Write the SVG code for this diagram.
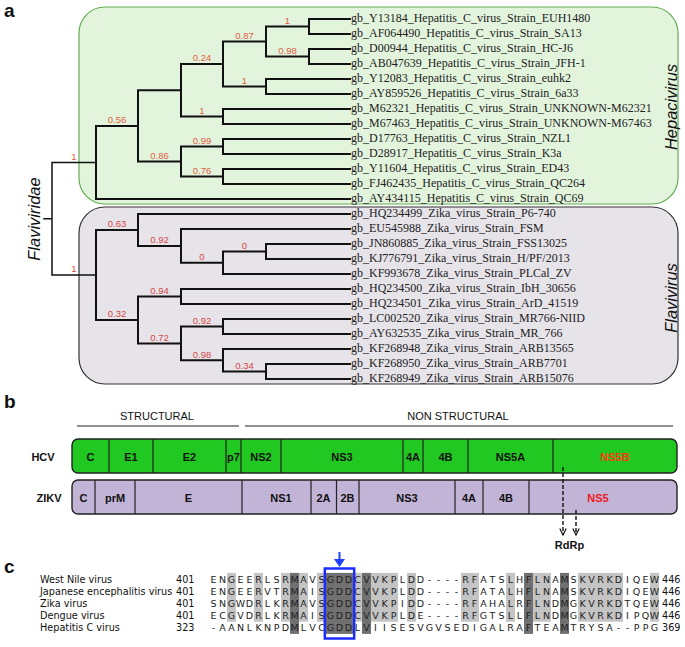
<svg xmlns="http://www.w3.org/2000/svg" width="685" height="647" viewBox="0 0 685 647">
<style>
.panel{font-family:"Liberation Sans",Arial,sans-serif;font-weight:bold;font-size:19px;fill:#111}
.br{fill:none;stroke:#111;stroke-width:2;stroke-linecap:square}
.root{fill:none;stroke:#111;stroke-width:1.5;stroke-linecap:square}
.leaf{font-family:"Liberation Serif","Times New Roman",serif;font-size:12px;fill:#222}
.bl{font-family:"Liberation Sans",Arial,sans-serif;font-size:9.5px;text-anchor:middle}
.bh{fill:#e2603f}
.bz{fill:#d64848}
.clade{font-family:"Liberation Sans",Arial,sans-serif;font-style:italic;font-size:16.5px;fill:#111;text-anchor:middle}
.seg{font-family:"Liberation Sans",Arial,sans-serif;font-weight:bold;font-size:11px;fill:#111;text-anchor:middle}
.hdr{font-family:"Liberation Sans",Arial,sans-serif;font-size:11px;fill:#111;text-anchor:middle}
.div{stroke:#222;stroke-width:1.2}
.dash{fill:none;stroke:#111;stroke-width:1.4;stroke-dasharray:4 2}
.nm{font-family:"DejaVu Sans",Verdana,sans-serif;font-size:9.7px;fill:#111}
.res{font-family:"DejaVu Sans",Verdana,sans-serif;font-size:9.5px;fill:#222;text-anchor:middle}
.lt{fill:#c4c4c4}
.dk{fill:#707070}
</style>
<defs>
<marker id="chev" viewBox="0 0 10 10" refX="9" refY="5" markerWidth="8" markerHeight="8" orient="auto" markerUnits="userSpaceOnUse">
<path d="M1,1 L9,5 L1,9" fill="none" stroke="#111" stroke-width="1.5" stroke-dasharray="none"/>
</marker>
</defs>
<rect width="685" height="647" fill="#fff"/>

<!-- Panel a -->
<g id="panel-a">
<text class="panel" x="4" y="17">a</text>
<g id="hepacivirus-box">
<rect x="79" y="7" width="599" height="197" rx="26" fill="#e3f4dd" stroke="#62ad52" stroke-width="1.2"/>
<text class="clade" transform="translate(677,107) rotate(-90)">Hepacivirus</text>
</g>
<g id="flavivirus-box">
<rect x="79" y="207" width="599" height="177" rx="26" fill="#e6e3e9" stroke="#333" stroke-width="1.2"/>
<text class="clade" transform="translate(677,298) rotate(-90)">Flavivirus</text>
</g>
<text class="clade" transform="translate(40,219) rotate(-90)">Flaviviridae</text>

<g id="tree-connectors">
<path class="root" d="M52 162.4 V274.9 M44 218.7 H52 M52 162.4 H96 M52 274.9 H96"/>
<path class="br" d="M96 125.9 V199 M96 125.9 H138 M96 199 H350
M138 90.25 V161.5 M138 90.25 H181 M138 161.5 H181
M181 64 V116.5 M181 64 H223 M181 116.5 H223
M223 41.5 V86.5 M223 41.5 H266 M223 86.5 H266
M266 26.5 V56.5 M266 26.5 H309 M266 56.5 H309
M309 19 V34 M309 19 H350 M309 34 H350
M309 49 V64 M309 49 H350 M309 64 H350
M266 79 V94 M266 79 H350 M266 94 H350
M223 109 V124 M223 109 H350 M223 124 H350
M181 146.5 V176.5 M181 146.5 H223 M181 176.5 H223
M223 139 V154 M223 139 H350 M223 154 H350
M223 169 V184 M223 169 H350 M223 184 H350"/>
<path class="br" d="M96 229.9 V319.9 M96 229.9 H138 M96 319.9 H138
M138 214 V245.9 M138 214 H350 M138 245.9 H181
M181 229 V262.75 M181 229 H350 M181 262.75 H223
M223 251.5 V274 M223 251.5 H266 M223 274 H350
M266 244 V259 M266 244 H350 M266 259 H350
M138 296.5 V343.4 M138 296.5 H181 M138 343.4 H181
M181 289 V304 M181 289 H350 M181 304 H350
M181 326.5 V360.25 M181 326.5 H223 M181 360.25 H223
M223 319 V334 M223 319 H350 M223 334 H350
M223 349 V371.5 M223 349 H350 M223 371.5 H266
M266 364 V379 M266 364 H350 M266 379 H350"/>
</g>

<g id="branch-labels">
<text class="bl bh" x="74" y="159.5">1</text>
<text class="bl bh" x="117" y="123.2">0.56</text>
<text class="bl bh" x="159.5" y="158.8">0.86</text>
<text class="bl bh" x="202" y="61.3">0.24</text>
<text class="bl bh" x="202" y="113.8">1</text>
<text class="bl bh" x="244.5" y="38.8">0.87</text>
<text class="bl bh" x="244.5" y="83.8">1</text>
<text class="bl bh" x="287.5" y="23.8">1</text>
<text class="bl bh" x="287.5" y="53.8">0.98</text>
<text class="bl bh" x="202" y="143.8">0.99</text>
<text class="bl bh" x="202" y="173.8">0.76</text>
<text class="bl bz" x="74" y="272.2">1</text>
<text class="bl bz" x="117" y="227.2">0.63</text>
<text class="bl bz" x="117" y="317.2">0.32</text>
<text class="bl bz" x="159.5" y="243.2">0.92</text>
<text class="bl bz" x="202" y="260">0</text>
<text class="bl bz" x="244.5" y="248.8">0</text>
<text class="bl bz" x="159.5" y="293.8">0.94</text>
<text class="bl bz" x="159.5" y="340.7">0.72</text>
<text class="bl bz" x="202" y="323.8">0.92</text>
<text class="bl bz" x="202" y="357.5">0.98</text>
<text class="bl bz" x="244.5" y="368.8">0.34</text>
</g>

<g id="leaves">
<g id="leaf-0"><text class="leaf" x="351" y="22">gb_Y13184_Hepatitis_C_virus_Strain_EUH1480</text></g>
<g id="leaf-1"><text class="leaf" x="351" y="37">gb_AF064490_Hepatitis_C_virus_Strain_SA13</text></g>
<g id="leaf-2"><text class="leaf" x="351" y="52">gb_D00944_Hepatitis_C_virus_Strain_HC-J6</text></g>
<g id="leaf-3"><text class="leaf" x="351" y="67">gb_AB047639_Hepatitis_C_virus_Strain_JFH-1</text></g>
<g id="leaf-4"><text class="leaf" x="351" y="82">gb_Y12083_Hepatitis_C_virus_Strain_euhk2</text></g>
<g id="leaf-5"><text class="leaf" x="351" y="97">gb_AY859526_Hepatitis_C_virus_Strain_6a33</text></g>
<g id="leaf-6"><text class="leaf" x="351" y="112">gb_M62321_Hepatitis_C_virus_Strain_UNKNOWN-M62321</text></g>
<g id="leaf-7"><text class="leaf" x="351" y="127">gb_M67463_Hepatitis_C_virus_Strain_UNKNOWN-M67463</text></g>
<g id="leaf-8"><text class="leaf" x="351" y="142">gb_D17763_Hepatitis_C_virus_Strain_NZL1</text></g>
<g id="leaf-9"><text class="leaf" x="351" y="157">gb_D28917_Hepatitis_C_virus_Strain_K3a</text></g>
<g id="leaf-10"><text class="leaf" x="351" y="172">gb_Y11604_Hepatitis_C_virus_Strain_ED43</text></g>
<g id="leaf-11"><text class="leaf" x="351" y="187">gb_FJ462435_Hepatitis_C_virus_Strain_QC264</text></g>
<g id="leaf-12"><text class="leaf" x="351" y="202">gb_AY434115_Hepatitis_C_virus_Strain_QC69</text></g>
<g id="leaf-13"><text class="leaf" x="351" y="217">gb_HQ234499_Zika_virus_Strain_P6-740</text></g>
<g id="leaf-14"><text class="leaf" x="351" y="232">gb_EU545988_Zika_virus_Strain_FSM</text></g>
<g id="leaf-15"><text class="leaf" x="351" y="247">gb_JN860885_Zika_virus_Strain_FSS13025</text></g>
<g id="leaf-16"><text class="leaf" x="351" y="262">gb_KJ776791_Zika_virus_Strain_H/PF/2013</text></g>
<g id="leaf-17"><text class="leaf" x="351" y="277">gb_KF993678_Zika_virus_Strain_PLCal_ZV</text></g>
<g id="leaf-18"><text class="leaf" x="351" y="292">gb_HQ234500_Zika_virus_Strain_IbH_30656</text></g>
<g id="leaf-19"><text class="leaf" x="351" y="307">gb_HQ234501_Zika_virus_Strain_ArD_41519</text></g>
<g id="leaf-20"><text class="leaf" x="351" y="322">gb_LC002520_Zika_virus_Strain_MR766-NIID</text></g>
<g id="leaf-21"><text class="leaf" x="351" y="337">gb_AY632535_Zika_virus_Strain_MR_766</text></g>
<g id="leaf-22"><text class="leaf" x="351" y="352">gb_KF268948_Zika_virus_Strain_ARB13565</text></g>
<g id="leaf-23"><text class="leaf" x="351" y="367">gb_KF268950_Zika_virus_Strain_ARB7701</text></g>
<g id="leaf-24"><text class="leaf" x="351" y="382">gb_KF268949_Zika_virus_Strain_ARB15076</text></g>
</g>
</g>

<!-- Panel b -->
<g id="panel-b">
<text class="panel" x="4" y="408">b</text>
<g id="structural-header">
<text class="hdr" x="157" y="420">STRUCTURAL</text>
<line x1="77" y1="426" x2="239" y2="426" stroke="#222" stroke-width="1.2"/>
</g>
<g id="nonstructural-header">
<text class="hdr" x="458" y="420">NON STRUCTURAL</text>
<line x1="245" y1="426" x2="673" y2="426" stroke="#222" stroke-width="1.2"/>
</g>
<g id="hcv-genome">
<text class="seg" x="43" y="461">HCV</text>
<rect x="72" y="439" width="605" height="34" rx="6" fill="#22c822" stroke="#222" stroke-width="1.4"/>
<path class="div" d="M109 439V473 M153 439V473 M226 439V473 M241 439V473 M281 439V473 M403 439V473 M423 439V473 M468 439V473 M553 439V473"/>
<text class="seg" x="90.5" y="461">C</text>
<text class="seg" x="131" y="461">E1</text>
<text class="seg" x="189.5" y="461">E2</text>
<text class="seg" x="233.5" y="461">p7</text>
<text class="seg" x="261" y="461">NS2</text>
<text class="seg" x="342" y="461">NS3</text>
<text class="seg" x="413" y="461">4A</text>
<text class="seg" x="445.5" y="461">4B</text>
<text class="seg" x="510.5" y="461">NS5A</text>
<text class="seg" x="615" y="461" style="fill:#ff3a10">NS5B</text>
</g>
<g id="zikv-genome">
<text class="seg" x="49" y="502">ZIKV</text>
<rect x="72" y="480" width="605" height="34" rx="6" fill="#c2b4d7" stroke="#222" stroke-width="1.4"/>
<path class="div" d="M95 480V514 M135 480V514 M242 480V514 M311 480V514 M336.5 480V514 M359 480V514 M455 480V514 M483 480V514 M529 480V514"/>
<text class="seg" x="83.5" y="502">C</text>
<text class="seg" x="115" y="502">prM</text>
<text class="seg" x="188.5" y="502">E</text>
<text class="seg" x="281" y="502">NS1</text>
<text class="seg" x="323.5" y="502">2A</text>
<text class="seg" x="347.5" y="502">2B</text>
<text class="seg" x="407" y="502">NS3</text>
<text class="seg" x="469" y="502">4A</text>
<text class="seg" x="506" y="502">4B</text>
<text class="seg" x="598" y="502" style="fill:#ee1a22">NS5</text>
</g>
<g id="rdrp">
<text class="seg" x="569.5" y="549">RdRp</text>
</g>
<g id="connectors">
<line class="dash" x1="563" y1="467" x2="563" y2="535" marker-end="url(#chev)"/>
<line class="dash" x1="576" y1="510" x2="576" y2="535" marker-end="url(#chev)"/>
</g>
</g>

<!-- Panel c -->
<g id="panel-c">
<text class="panel" x="4" y="573">c</text>
<g id="shading">
<rect class="lt" x="227" y="572.9" width="9" height="48.8"/>
<rect class="lt" x="254" y="572.9" width="9" height="48.8"/>
<rect class="lt" x="281" y="572.9" width="9" height="48.8"/>
<rect class="dk" x="290" y="572.9" width="9" height="61"/>
<rect class="lt" x="299" y="572.9" width="9" height="48.8"/>
<rect class="lt" x="317" y="572.9" width="9" height="48.8"/>
<rect class="dk" x="326" y="572.9" width="27" height="61"/>
<rect class="lt" x="353" y="572.9" width="9" height="48.8"/>
<rect class="dk" x="362" y="572.9" width="9" height="61"/>
<rect class="lt" x="371" y="572.9" width="27" height="48.8"/>
<rect class="lt" x="407" y="572.9" width="9" height="48.8"/>
<rect class="lt" x="461" y="572.9" width="18" height="48.8"/>
<rect class="lt" x="506" y="572.9" width="9" height="48.8"/>
<rect class="dk" x="524" y="572.9" width="9" height="61"/>
<rect class="lt" x="533" y="572.9" width="18" height="48.8"/>
<rect class="dk" x="560" y="572.9" width="9" height="61"/>
<rect class="lt" x="578" y="572.9" width="45" height="48.8"/>
<rect class="lt" x="650" y="572.9" width="9" height="48.8"/>
</g>
<g id="alignment-names">
<text class="nm" x="40" y="582.5">West Nile virus</text>
<text class="nm" x="40" y="594.7">Japanese encephalitis virus</text>
<text class="nm" x="40" y="606.9">Zika virus</text>
<text class="nm" x="40" y="619.1">Dengue virus</text>
<text class="nm" x="40" y="631.3">Hepatitis C virus</text>
<text class="nm" x="176" y="582.5">401</text>
<text class="nm" x="176" y="594.7">401</text>
<text class="nm" x="176" y="606.9">401</text>
<text class="nm" x="176" y="619.1">401</text>
<text class="nm" x="176" y="631.3">323</text>
<text class="nm" x="662" y="582.5">446</text>
<text class="nm" x="662" y="594.7">446</text>
<text class="nm" x="662" y="606.9">446</text>
<text class="nm" x="662" y="619.1">446</text>
<text class="nm" x="662" y="631.3">369</text>
</g>
<g id="alignment-seqs">
<text class="res" y="582.5" x="213.5 222.5 231.5 240.5 249.5 258.5 267.5 276.5 285.5 294.5 303.5 312.5 321.5 330.5 339.5 348.5 357.5 366.5 375.5 384.5 393.5 402.5 411.5 420.5 429.5 438.5 447.5 456.5 465.5 474.5 483.5 492.5 501.5 510.5 519.5 528.5 537.5 546.5 555.5 564.5 573.5 582.5 591.5 600.5 609.5 618.5 627.5 636.5 645.5 654.5">ENGEERLSRMAVSGDDCVVKPLDD----RFATSLHFLNAMSKVRKDIQEW</text>
<text class="res" y="594.7" x="213.5 222.5 231.5 240.5 249.5 258.5 267.5 276.5 285.5 294.5 303.5 312.5 321.5 330.5 339.5 348.5 357.5 366.5 375.5 384.5 393.5 402.5 411.5 420.5 429.5 438.5 447.5 456.5 465.5 474.5 483.5 492.5 501.5 510.5 519.5 528.5 537.5 546.5 555.5 564.5 573.5 582.5 591.5 600.5 609.5 618.5 627.5 636.5 645.5 654.5">ENGEERVTRMAISGDDCVVKPLDD----RFATALHFLNAMSKVRKDIQEW</text>
<text class="res" y="606.9" x="213.5 222.5 231.5 240.5 249.5 258.5 267.5 276.5 285.5 294.5 303.5 312.5 321.5 330.5 339.5 348.5 357.5 366.5 375.5 384.5 393.5 402.5 411.5 420.5 429.5 438.5 447.5 456.5 465.5 474.5 483.5 492.5 501.5 510.5 519.5 528.5 537.5 546.5 555.5 564.5 573.5 582.5 591.5 600.5 609.5 618.5 627.5 636.5 645.5 654.5">SNGWDRLKRMAVSGDDCVVKPIDD----RFAHALRFLNDMGKVRKDTQEW</text>
<text class="res" y="619.1" x="213.5 222.5 231.5 240.5 249.5 258.5 267.5 276.5 285.5 294.5 303.5 312.5 321.5 330.5 339.5 348.5 357.5 366.5 375.5 384.5 393.5 402.5 411.5 420.5 429.5 438.5 447.5 456.5 465.5 474.5 483.5 492.5 501.5 510.5 519.5 528.5 537.5 546.5 555.5 564.5 573.5 582.5 591.5 600.5 609.5 618.5 627.5 636.5 645.5 654.5">ECGVDRLKRMAISGDDCVVKPLDE----RFGTSLLFLNDMGKVRKDIPQW</text>
<text class="res" y="631.3" x="213.5 222.5 231.5 240.5 249.5 258.5 267.5 276.5 285.5 294.5 303.5 312.5 321.5 330.5 339.5 348.5 357.5 366.5 375.5 384.5 393.5 402.5 411.5 420.5 429.5 438.5 447.5 456.5 465.5 474.5 483.5 492.5 501.5 510.5 519.5 528.5 537.5 546.5 555.5 564.5 573.5 582.5 591.5 600.5 609.5 618.5 627.5 636.5 645.5 654.5">-AANLKNPDMLVCGDDLVIISESVGVSEDIGALRAFTEAMTRYSA--PPG</text>
</g>
<g id="gdd-highlight">
<rect x="324.8" y="568.5" width="29.4" height="70" fill="none" stroke="#1a2cff" stroke-width="2.5"/>
<line x1="339.5" y1="552" x2="339.5" y2="560" stroke="#1f3fff" stroke-width="2"/>
<path d="M334 559 L345 559 L339.5 567 Z" fill="#1f3fff"/>
</g>
</g>
</svg>
